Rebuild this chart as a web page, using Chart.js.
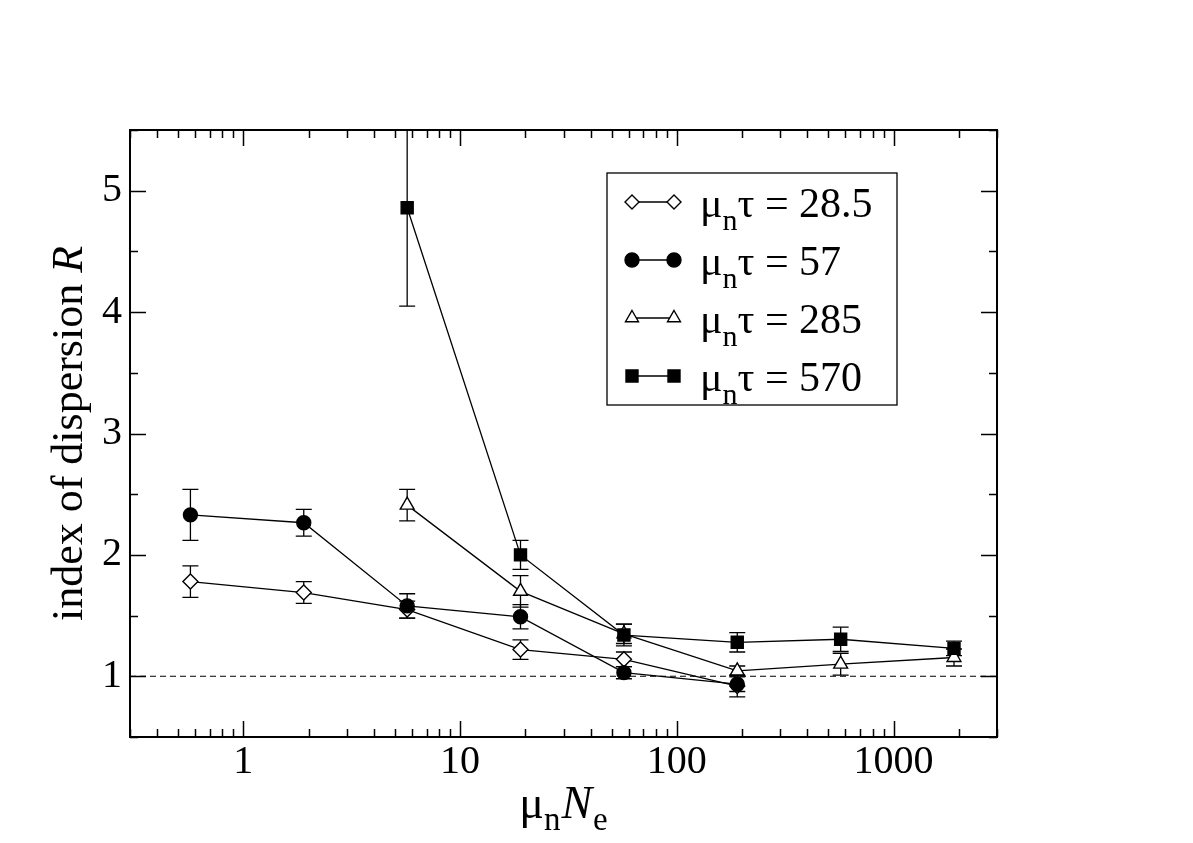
<!DOCTYPE html>
<html>
<head>
<meta charset="utf-8">
<script src="https://cdn.jsdelivr.net/npm/chart.js@4.4.1/dist/chart.umd.min.js"></script>
<style>
    html, body { margin: 0; padding: 0; background: #fff; }
    #wrap { position: relative; width: 1193px; height: 843px; }
</style>
</head>
<body>
<div id="wrap"><canvas id="chart"></canvas></div>
<script>
// mu_n N_e positions
const xShort = [0.57, 1.9, 5.7, 19, 57, 190];
const xLong = [5.7, 19, 57, 190, 570, 1900];

// mu_n tau = 28.5 (open diamonds)
const rDiamond = [1.78, 1.69, 1.55, 1.22, 1.14, 0.92];
const eDiamond = [0.13, 0.09, 0.07, 0.08, 0.06, 0.09];
// mu_n tau = 57 (filled circles)
const rCircle = [2.33, 2.265, 1.58, 1.49, 1.03, 0.935];
const eCircle = [0.21, 0.11, 0.10, 0.10, 0.05, 0.06];
// mu_n tau = 285 (open triangles)
const rTriangle = [2.41, 1.70, 1.35, 1.045, 1.10, 1.155];
const eTriangle = [0.13, 0.13, 0.08, 0.04, 0.09, 0.07];
// mu_n tau = 570 (filled squares)
const rSquare = [4.86, 2.0, 1.34, 1.28, 1.305, 1.23];
const eSquare = [0.81, 0.12, 0.09, 0.08, 0.10, 0.06];

const legendLabels = ["28.5", "57", "285", "570"];
const xTickLabels = [1, 10, 100, 1000];
const yTickLabels = [1, 2, 3, 4, 5];
const xRange = [0.3, 3000];
const yRange = [0.5, 5.5];
const poissonLine = [1, 1];

const SERIF = '"Liberation Serif", "Times New Roman", serif';

function pts(xs, ys) {
    return xs.map((x, i) => ({ x: x, y: ys[i] }));
}

const series = [
    { label: legendLabels[0], xs: xShort, ys: rDiamond, err: eDiamond, mark: "diamond" },
    { label: legendLabels[1], xs: xShort, ys: rCircle, err: eCircle, mark: "circle" },
    { label: legendLabels[2], xs: xLong, ys: rTriangle, err: eTriangle, mark: "triangle" },
    { label: legendLabels[3], xs: xLong, ys: rSquare, err: eSquare, mark: "square" }
];

const markStyle = {
    diamond: { pointStyle: "rectRot", radius: 7.5, fill: "#fff" },
    circle: { pointStyle: "circle", radius: 7, fill: "#000" },
    triangle: { pointStyle: "triangle", radius: 8, fill: "#fff" },
    square: { pointStyle: "rect", radius: 8.5, fill: "#000" }
};

// later series are painted on top (higher order = drawn first)
const datasets = series.map((s, i) => ({
    label: s.label,
    data: pts(s.xs, s.ys),
    errors: s.err,
    showLine: true,
    borderColor: "#000",
    borderWidth: 1.3,
    pointStyle: markStyle[s.mark].pointStyle,
    pointRadius: markStyle[s.mark].radius,
    pointHoverRadius: markStyle[s.mark].radius,
    pointBackgroundColor: markStyle[s.mark].fill,
    pointBorderColor: "#000",
    pointBorderWidth: 1.4,
    order: series.length - i
}));

// dashed line at R = 1
datasets.push({
    label: "R=1",
    data: pts(xRange, poissonLine),
    showLine: true,
    borderColor: "#000",
    borderWidth: 1.1,
    borderDash: [6, 4],
    pointRadius: 0,
    order: 10
});

// draw a marker symbol (used in the legend box)
function drawMark(ctx, mark, x, y) {
    ctx.beginPath();
    if (mark === "diamond") {
        const r = 7;
        ctx.moveTo(x - r, y); ctx.lineTo(x, y - r); ctx.lineTo(x + r, y); ctx.lineTo(x, y + r);
        ctx.closePath();
    } else if (mark === "circle") {
        ctx.arc(x, y, 7, 0, Math.PI * 2);
    } else if (mark === "triangle") {
        const r = 7.5;
        ctx.moveTo(x, y - r);
        ctx.lineTo(x + r * Math.sin(2 * Math.PI / 3), y - r * Math.cos(2 * Math.PI / 3));
        ctx.lineTo(x + r * Math.sin(4 * Math.PI / 3), y - r * Math.cos(4 * Math.PI / 3));
        ctx.closePath();
    } else {
        ctx.rect(x - 6, y - 6, 12, 12);
    }
    ctx.fillStyle = markStyle[mark].fill;
    ctx.fill();
    ctx.lineWidth = 1.4;
    ctx.strokeStyle = "#000";
    ctx.stroke();
}

// text made of runs (for subscripts / italics)
function runsWidth(ctx, runs) {
    let w = 0;
    runs.forEach(r => { ctx.font = r.font; w += ctx.measureText(r.t).width + (r.gap || 0); });
    return w;
}
function drawRuns(ctx, runs, x, y) {
    ctx.textAlign = "left";
    ctx.textBaseline = "alphabetic";
    ctx.fillStyle = "#000";
    runs.forEach(r => {
        ctx.font = r.font;
        ctx.fillText(r.t, x, y + (r.dy || 0));
        x += ctx.measureText(r.t).width + (r.gap || 0);
    });
}

const errorBars = {
    id: "errorBars",
    beforeDatasetsDraw(chart) {
        const ctx = chart.ctx, a = chart.chartArea;
        const xs = chart.scales.x, ys = chart.scales.y;
        ctx.save();
        ctx.beginPath();
        ctx.rect(a.left, a.top, a.right - a.left, a.bottom - a.top);
        ctx.clip();
        ctx.strokeStyle = "#000";
        ctx.lineWidth = 1.3;
        chart.data.datasets.forEach(ds => {
            if (!ds.errors) return;
            ds.data.forEach((p, i) => {
                const px = xs.getPixelForValue(p.x);
                const top = ys.getPixelForValue(p.y + ds.errors[i]);
                const bot = ys.getPixelForValue(p.y - ds.errors[i]);
                ctx.beginPath();
                ctx.moveTo(px, top); ctx.lineTo(px, bot);
                ctx.moveTo(px - 8, top); ctx.lineTo(px + 8, top);
                ctx.moveTo(px - 8, bot); ctx.lineTo(px + 8, bot);
                ctx.stroke();
            });
        });
        ctx.restore();
    }
};

const frameAndText = {
    id: "frameAndText",
    afterDraw(chart) {
        const ctx = chart.ctx, a = chart.chartArea;
        const xs = chart.scales.x, ys = chart.scales.y;
        ctx.save();
        ctx.strokeStyle = "#000";

        // inward ticks on all four sides
        ctx.lineWidth = 1.5;
        ctx.beginPath();
        for (let d = -1; d <= 3; d++) {
            for (let m = 1; m <= 9; m++) {
                const v = m * Math.pow(10, d);
                if (v < xRange[0] - 1e-9 || v > xRange[1] + 1e-9) continue;
                const px = Math.round(xs.getPixelForValue(v)) + 0.5;
                const len = m === 1 ? 16 : 8;
                ctx.moveTo(px, a.bottom); ctx.lineTo(px, a.bottom - len);
                ctx.moveTo(px, a.top); ctx.lineTo(px, a.top + len);
            }
        }
        for (let v = yRange[0]; v <= yRange[1] + 1e-9; v += 0.5) {
            const py = Math.round(ys.getPixelForValue(v)) + 0.5;
            const len = Number.isInteger(v) ? 16 : 8;
            ctx.moveTo(a.left, py); ctx.lineTo(a.left + len, py);
            ctx.moveTo(a.right, py); ctx.lineTo(a.right - len, py);
        }
        ctx.stroke();

        // frame
        ctx.lineWidth = 2;
        ctx.strokeRect(a.left, a.top, a.right - a.left, a.bottom - a.top);

        // x title: mu_n N_e
        const xt = [
            { t: "\u03bc", font: "46px " + SERIF },
            { t: "n", font: "33px " + SERIF, dy: 12, gap: 1 },
            { t: "N", font: "italic 46px " + SERIF, gap: 1 },
            { t: "e", font: "33px " + SERIF, dy: 12 }
        ];
        const xw = runsWidth(ctx, xt);
        drawRuns(ctx, xt, (a.left + a.right) / 2 - xw / 2, 818);

        // y title
        const yt = [
            { t: "index of dispersion ", font: "44px " + SERIF },
            { t: "R", font: "italic 44px " + SERIF }
        ];
        const yw = runsWidth(ctx, yt);
        ctx.save();
        ctx.translate(82, (a.top + a.bottom) / 2);
        ctx.rotate(-Math.PI / 2);
        drawRuns(ctx, yt, -yw / 2, 0);
        ctx.restore();

        // legend box
        ctx.lineWidth = 1.3;
        ctx.fillStyle = "#fff";
        ctx.fillRect(607, 173, 290, 232);
        ctx.strokeRect(607, 173, 290, 232);
        const rowY = [202, 260, 318, 376];
        series.forEach((s, i) => {
            const y = rowY[i];
            ctx.beginPath();
            ctx.lineWidth = 1.3;
            ctx.moveTo(632, y); ctx.lineTo(674, y);
            ctx.stroke();
            drawMark(ctx, s.mark, 632, y);
            drawMark(ctx, s.mark, 674, y);
            drawRuns(ctx, [
                { t: "\u03bc", font: "42px " + SERIF },
                { t: "n", font: "30px " + SERIF, dy: 13 },
                { t: "\u03c4 = " + s.label, font: "42px " + SERIF }
            ], 700, y + 15);
        });
        ctx.restore();
    }
};

new Chart(document.getElementById("chart"), {
    type: "scatter",
    data: { datasets: datasets },
    options: {
        responsive: true,
        maintainAspectRatio: false,
        animation: false,
        layout: { padding: { left: 0, top: 130, right: 196, bottom: 0 } },
        plugins: {
            legend: { display: false },
            tooltip: { enabled: false }
        },
        scales: {
            x: {
                type: "logarithmic",
                min: xRange[0],
                max: xRange[1],
                grid: { display: false, drawTicks: false },
                border: { display: false },
                ticks: {
                    autoSkip: false,
                    maxRotation: 0,
                    padding: 1,
                    color: "#000",
                    font: { family: SERIF, size: 40 },
                    callback: v => xTickLabels.some(t => Math.abs(t - v) < 1e-6 * t) ? String(Math.round(v)) : ""
                },
                afterFit: s => { s.height = 106; }
            },
            y: {
                min: yRange[0],
                max: yRange[1],
                grid: { display: false, drawTicks: false },
                border: { display: false },
                ticks: {
                    stepSize: 0.5,
                    padding: 8,
                    color: "#000",
                    font: { family: SERIF, size: 40 },
                    callback: v => yTickLabels.includes(v) ? String(v) : ""
                },
                afterFit: s => { s.width = 130; }
            }
        }
    },
    plugins: [errorBars, frameAndText]
});
</script>
</body>
</html>
